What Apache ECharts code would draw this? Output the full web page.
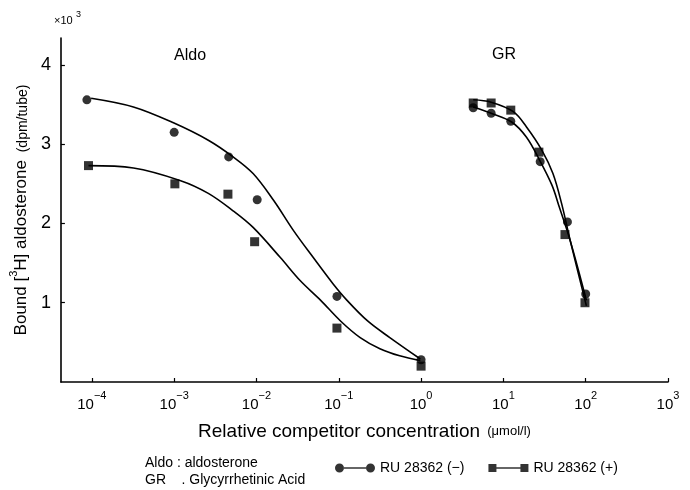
<!DOCTYPE html>
<html>
<head>
<meta charset="utf-8">
<script src="https://cdn.jsdelivr.net/npm/echarts@6/dist/echarts.min.js"></script>
<style>
  html, body { margin: 0; padding: 0; background: #fff; }
  #chart { width: 690px; height: 490px; }
</style>
</head>
<body>
<div id="chart"></div>
<script>
// measured points: [concentration (umol/l), bound x10^3 dpm/tube]
var aldoMinus = [[0.87e-4, 3.56], [1e-3, 3.15], [4.6e-3, 2.84], [1.02e-2, 2.30], [9.5e-2, 1.08], [1, 0.28]];
var aldoPlus = [[0.91e-4, 2.73], [1.02e-3, 2.50], [4.5e-3, 2.37], [9.5e-3, 1.77], [9.5e-2, 0.68], [1, 0.20]];
var grMinus = [[4.3, 3.46], [7.1, 3.39], [12.3, 3.29], [28, 2.78], [60, 2.02], [100, 1.11]];
var grPlus = [[4.3, 3.52], [7.1, 3.52], [12.3, 3.43], [27, 2.90], [56, 1.86], [98, 1.00]];

// fitted curves as drawn on the figure
var aldoMinusCurve = [[0.98e-4, 3.58], [3.2e-4, 3.47], [0.98e-3, 3.27], [2.6e-3, 3.05], [5.2e-3, 2.84], [9.1e-3, 2.63],
  [1.62e-2, 2.29], [2.82e-2, 1.91], [4.9e-2, 1.57], [8.5e-2, 1.24], [1.26e-1, 1.03], [2.24e-1, 0.77], [4.17e-1, 0.56], [0.98, 0.29]];
var aldoPlusCurve = [[0.91e-4, 2.73], [3.2e-4, 2.70], [1.2e-3, 2.54], [2.6e-3, 2.38], [5.2e-3, 2.16], [9.1e-3, 1.95],
  [1.95e-2, 1.57], [3.39e-2, 1.28], [6.03e-2, 1.03], [1.05e-1, 0.77], [1.82e-1, 0.56], [3.16e-1, 0.42], [5.5e-1, 0.33], [0.98, 0.27]];
var grMinusCurve = [[4.3, 3.47], [7.1, 3.39], [12.6, 3.28], [19, 3.09], [27.5, 2.80], [39, 2.48], [48, 2.20], [65, 1.78], [102, 1.03]];
var grPlusCurve = [[4.3, 3.56], [7.1, 3.53], [13.2, 3.41], [19, 3.22], [29.5, 2.92], [40, 2.63], [51, 2.25], [65, 1.78], [102, 0.96]];

var xTicks = [-4, -3, -2, -1, 0, 1, 2, 3];
var yTicks = [1, 2, 3, 4];

function toLog(arr) {
  return arr.map(function (p) { return [Math.log10(p[0]), p[1]]; });
}

var chart = echarts.init(document.getElementById('chart'));
var font = '"Liberation Sans", Arial, sans-serif';

function curve(data) {
  return {
    type: 'line',
    data: toLog(data),
    smooth: 0.35,
    showSymbol: false,
    symbol: 'none',
    silent: true,
    lineStyle: { color: '#000', width: 1.6 },
    z: 1
  };
}

var circleIcon = 'path://M0,5A4.5,4.5,0,1,0,9,5A4.5,4.5,0,1,0,0,5Z M9,4.3L31,4.3L31,5.7L9,5.7Z M31,5A4.5,4.5,0,1,0,40,5A4.5,4.5,0,1,0,31,5Z';
var squareIcon = 'path://M0,1L8,1L8,9L0,9Z M8,4.3L32,4.3L32,5.7L8,5.7Z M32,1L40,1L40,9L32,9Z';

chart.setOption({
  backgroundColor: '#fff',
  animation: false,
  textStyle: { fontFamily: font, color: '#000' },
  grid: { left: 60, right: 22, top: 38, bottom: 108 },
  legend: {
    left: 330,
    top: 456,
    itemWidth: 40,
    itemHeight: 10,
    itemGap: 24,
    textStyle: { fontFamily: '"Liberation Sans Narrow", "Liberation Sans", sans-serif', fontSize: 14, color: '#000' },
    data: [
      { name: 'RU 28362 (−)', icon: circleIcon },
      { name: 'RU 28362 (+)', icon: squareIcon }
    ]
  },
  xAxis: {
    type: 'value',
    min: -4.376,
    max: 3,
    splitLine: { show: false },
    axisLine: { onZero: false, lineStyle: { color: '#000', width: 1.6 } },
    axisTick: { inside: true, length: 4, customValues: xTicks, lineStyle: { color: '#000', width: 1.2 } },
    axisLabel: {
      customValues: xTicks,
      margin: 8,
      formatter: function (v) {
        return '{b|10}{s|' + (v < 0 ? '−' + (-v) : v) + '}';
      },
      rich: {
        b: { fontSize: 15, color: '#000', fontFamily: font, lineHeight: 22, verticalAlign: 'bottom' },
        s: { fontSize: 11, color: '#000', fontFamily: font, lineHeight: 22, verticalAlign: 'top' }
      }
    },
    name: '{m|Relative competitor concentration}{u|  (μmol/l)}',
    nameLocation: 'middle',
    nameGap: 40,
    nameTextStyle: {
      rich: {
        m: { fontSize: 19, color: '#000', fontFamily: font },
        u: { fontSize: 13, color: '#000', fontFamily: font }
      }
    }
  },
  yAxis: {
    type: 'value',
    min: 0,
    max: 4.34,
    splitLine: { show: false },
    axisLine: { onZero: false, lineStyle: { color: '#000', width: 1.6 } },
    axisTick: { inside: true, length: 4, customValues: yTicks, lineStyle: { color: '#000', width: 1.2 } },
    axisLabel: { customValues: yTicks, fontSize: 18, color: '#000', margin: 10, fontFamily: font },
    name: '{m|Bound [}{s|3}{m|H] aldosterone}{u|  (dpm/tube)}',
    nameLocation: 'middle',
    nameGap: 28,
    nameRotate: 90,
    nameTextStyle: {
      rich: {
        m: { fontSize: 17, color: '#000', fontFamily: font, lineHeight: 22, verticalAlign: 'bottom' },
        s: { fontSize: 11, color: '#000', fontFamily: font, lineHeight: 22, verticalAlign: 'top' },
        u: { fontSize: 14, color: '#000', fontFamily: font, lineHeight: 22, verticalAlign: 'bottom' }
      }
    }
  },
  graphic: [
    { type: 'text', left: 54, top: 15, style: { text: '×10', fill: '#000', font: '11px ' + font } },
    { type: 'text', left: 76, top: 10, style: { text: '3', fill: '#000', font: '9px ' + font } },
    { type: 'text', left: 174, top: 48, style: { text: 'Aldo', fill: '#000', font: '16px ' + font } },
    { type: 'text', left: 492, top: 47, style: { text: 'GR', fill: '#000', font: '16px ' + font } },
    { type: 'text', left: 145, top: 456, style: { text: 'Aldo : aldosterone', fill: '#000', font: '14px "Liberation Sans Narrow", ' + font } },
    { type: 'text', left: 145, top: 473, style: { text: 'GR    . Glycyrrhetinic Acid', fill: '#000', font: '14px "Liberation Sans Narrow", ' + font } }
  ],
  series: [
    curve(aldoMinusCurve),
    curve(aldoPlusCurve),
    curve(grMinusCurve),
    curve(grPlusCurve),
    {
      name: 'RU 28362 (−)',
      type: 'scatter',
      data: toLog(aldoMinus.concat(grMinus)),
      symbol: 'circle',
      symbolSize: 9,
      itemStyle: { color: '#000' },
      z: 3
    },
    {
      name: 'RU 28362 (+)',
      type: 'scatter',
      data: toLog(aldoPlus.concat(grPlus)),
      symbol: 'rect',
      symbolSize: 9,
      itemStyle: { color: '#000' },
      z: 3
    }
  ]
});
</script>
</body>
</html>
